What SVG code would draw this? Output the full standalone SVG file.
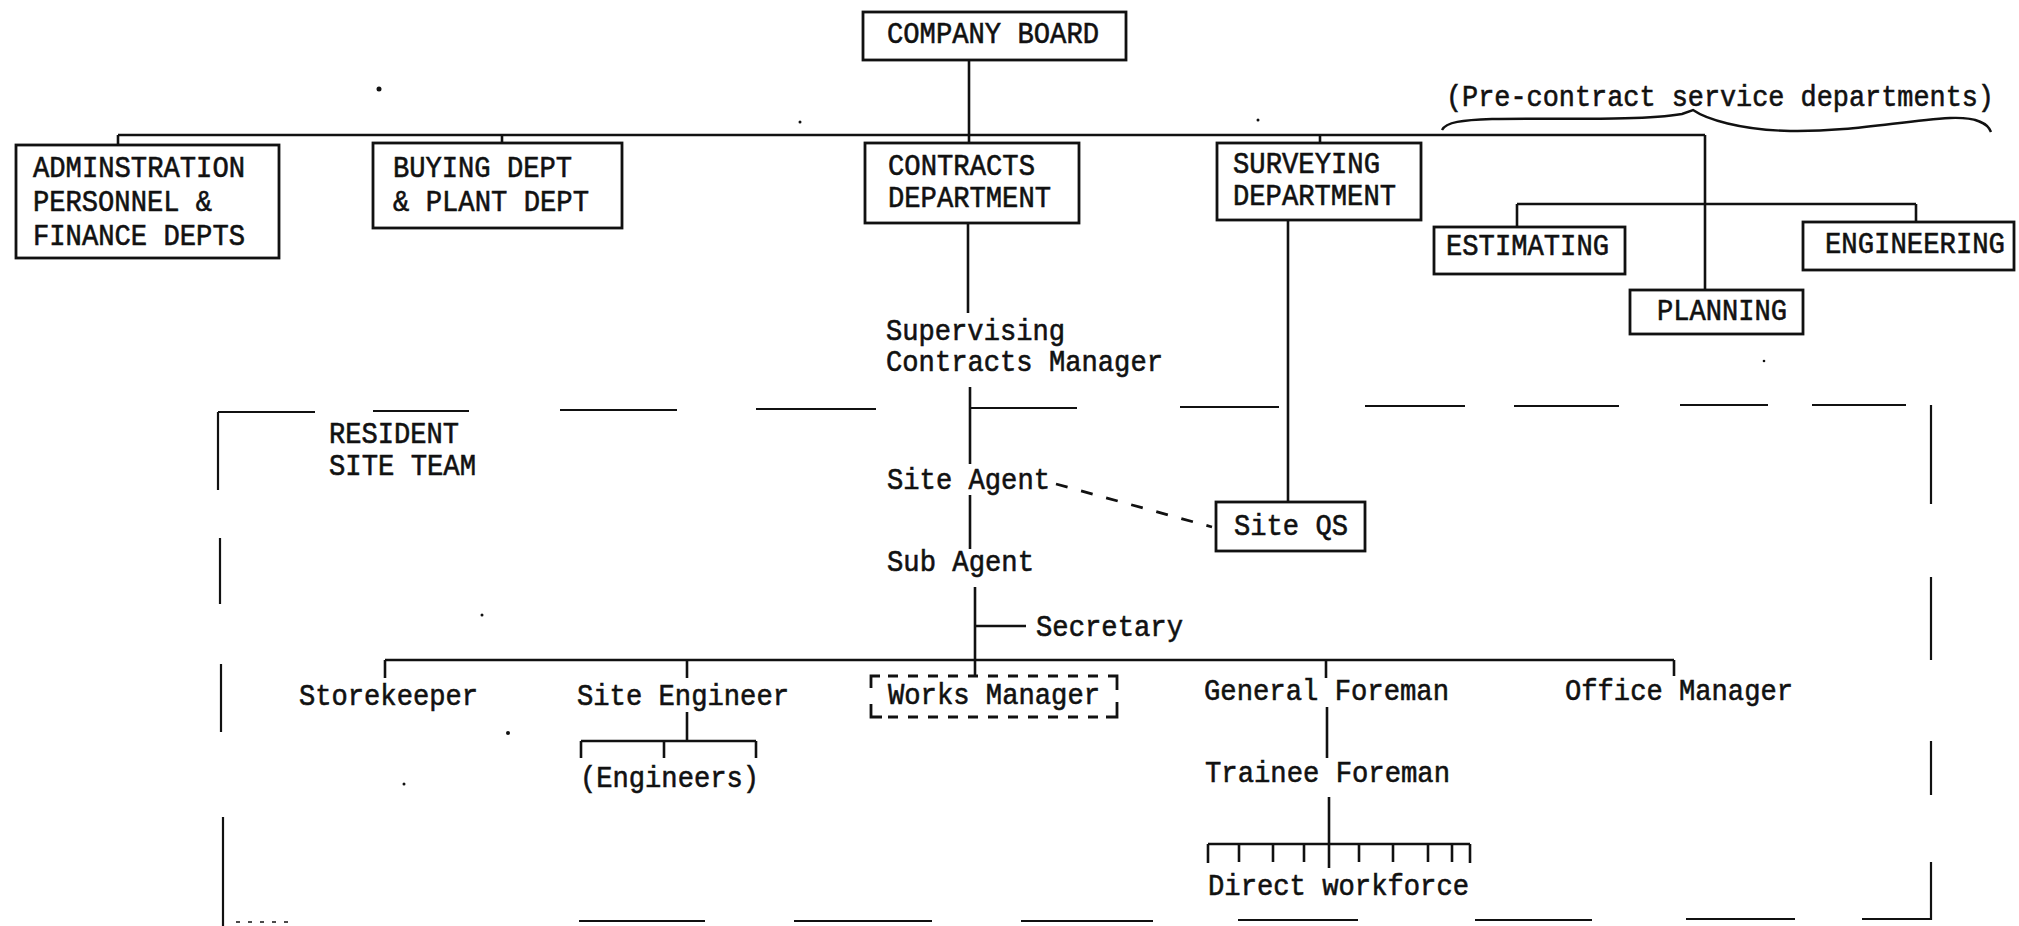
<svg xmlns="http://www.w3.org/2000/svg" width="2019" height="926" viewBox="0 0 2019 926">
<style>
.bg{fill:#fff}
.box{fill:none;stroke:#111;stroke-width:2.8}
.ln{fill:none;stroke:#111;stroke-width:2.6;stroke-linecap:butt}
.thin{fill:none;stroke:#111;stroke-width:2.4}
.dash{fill:none;stroke:#111;stroke-width:2.8;stroke-dasharray:12,14}
.wm{fill:none;stroke:#111;stroke-width:2.8;stroke-dasharray:10,10}
.wmc{fill:none;stroke:#111;stroke-width:2.8}
.bd{fill:none;stroke:#111;stroke-width:2.2}
text{font-family:"Liberation Mono","Courier New",monospace;font-size:30px;fill:#111;stroke:#111;stroke-width:0.6}
.dot{fill:#111}
</style>
<rect class="bg" x="0" y="0" width="2019" height="926"/>

<g id="connectors">
  <line class="ln" x1="969" y1="60" x2="969" y2="143"/>
  <line class="ln" x1="118" y1="135" x2="1705" y2="135"/>
  <line class="ln" x1="118" y1="135" x2="118" y2="145"/>
  <line class="ln" x1="502" y1="135" x2="502" y2="143"/>
  <line class="ln" x1="1320" y1="135" x2="1320" y2="143"/>
  <line class="ln" x1="1705" y1="135" x2="1705" y2="290"/>
  <line class="ln" x1="1517" y1="204" x2="1916" y2="204"/>
  <line class="ln" x1="1517" y1="204" x2="1517" y2="227"/>
  <line class="ln" x1="1916" y1="204" x2="1916" y2="222"/>
  <line class="ln" x1="968" y1="223" x2="968" y2="313"/>
  <line class="ln" x1="970" y1="387" x2="970" y2="464"/>
  <line class="ln" x1="970" y1="495" x2="970" y2="549"/>
  <line class="ln" x1="975" y1="587" x2="975" y2="676"/>
  <line class="ln" x1="975" y1="626" x2="1026" y2="626"/>
  <line class="ln" x1="1288" y1="220" x2="1288" y2="502"/>
  <line class="dash" x1="1056" y1="484" x2="1212" y2="527"/>
  <line class="ln" x1="385" y1="660" x2="1674" y2="660"/>
  <line class="ln" x1="385" y1="660" x2="385" y2="678"/>
  <line class="ln" x1="687" y1="660" x2="687" y2="678"/>
  <line class="ln" x1="1326" y1="660" x2="1326" y2="678"/>
  <line class="ln" x1="1674" y1="660" x2="1674" y2="676"/>
  <line class="ln" x1="687" y1="712" x2="687" y2="741"/>
  <line class="ln" x1="581" y1="741" x2="756" y2="741"/>
  <line class="ln" x1="581" y1="741" x2="581" y2="758"/>
  <line class="ln" x1="664" y1="741" x2="664" y2="758"/>
  <line class="ln" x1="756" y1="741" x2="756" y2="758"/>
  <line class="ln" x1="1327" y1="707" x2="1327" y2="758"/>
  <line class="ln" x1="1329" y1="797" x2="1329" y2="868"/>
  <line class="ln" x1="1208" y1="844" x2="1470" y2="844"/>
  <g class="ln">
    <line x1="1208" y1="844" x2="1208" y2="863"/>
    <line x1="1239" y1="844" x2="1239" y2="862"/>
    <line x1="1273" y1="844" x2="1273" y2="862"/>
    <line x1="1304" y1="844" x2="1304" y2="862"/>
    <line x1="1359" y1="844" x2="1359" y2="862"/>
    <line x1="1393" y1="844" x2="1393" y2="862"/>
    <line x1="1428" y1="844" x2="1428" y2="862"/>
    <line x1="1452" y1="844" x2="1452" y2="862"/>
    <line x1="1470" y1="844" x2="1470" y2="863"/>
  </g>
</g>

<g id="resident-site-team-boundary" class="bd">
  <line x1="218" y1="412" x2="315" y2="412"/>
  <line x1="373" y1="411" x2="469" y2="411"/>
  <line x1="560" y1="410" x2="677" y2="410"/>
  <line x1="756" y1="409" x2="876" y2="409"/>
  <line x1="970" y1="408" x2="1077" y2="408"/>
  <line x1="1180" y1="407" x2="1279" y2="407"/>
  <line x1="1365" y1="406" x2="1465" y2="406"/>
  <line x1="1514" y1="406" x2="1619" y2="406"/>
  <line x1="1680" y1="405" x2="1768" y2="405"/>
  <line x1="1812" y1="405" x2="1906" y2="405"/>
  <line x1="218" y1="412" x2="218" y2="490"/>
  <line x1="220" y1="538" x2="220" y2="604"/>
  <line x1="221" y1="664" x2="221" y2="732"/>
  <line x1="223" y1="817" x2="223" y2="926"/>
  <line x1="1931" y1="405" x2="1931" y2="504"/>
  <line x1="1931" y1="577" x2="1931" y2="660"/>
  <line x1="1931" y1="741" x2="1931" y2="795"/>
  <line x1="1931" y1="862" x2="1931" y2="920"/>
  <line x1="579" y1="921" x2="705" y2="921"/>
  <line x1="794" y1="921" x2="932" y2="921"/>
  <line x1="1021" y1="921" x2="1153" y2="921"/>
  <line x1="1238" y1="920" x2="1358" y2="920"/>
  <line x1="1475" y1="920" x2="1592" y2="920"/>
  <line x1="1686" y1="919" x2="1795" y2="919"/>
  <line x1="1862" y1="919" x2="1931" y2="919"/>
  <line x1="236" y1="922" x2="296" y2="922" stroke-dasharray="4,8" stroke-width="1.4"/>
</g>

<g id="company-board">
  <rect class="box" x="863" y="12" width="263" height="48"/>
  <text x="887" y="43" textLength="212" lengthAdjust="spacingAndGlyphs">COMPANY BOARD</text>
</g>
<g id="admin">
  <rect class="box" x="16" y="145" width="263" height="113"/>
  <text x="33" y="177" textLength="212" lengthAdjust="spacingAndGlyphs">ADMINSTRATION</text>
  <text x="33" y="211" textLength="179" lengthAdjust="spacingAndGlyphs">PERSONNEL &amp;</text>
  <text x="33" y="245" textLength="212" lengthAdjust="spacingAndGlyphs">FINANCE DEPTS</text>
</g>
<g id="buying">
  <rect class="box" x="373" y="143" width="249" height="85"/>
  <text x="393" y="177" textLength="179" lengthAdjust="spacingAndGlyphs">BUYING DEPT</text>
  <text x="393" y="211" textLength="196" lengthAdjust="spacingAndGlyphs">&amp; PLANT DEPT</text>
</g>
<g id="contracts">
  <rect class="box" x="865" y="143" width="214" height="80"/>
  <text x="888" y="175" textLength="147" lengthAdjust="spacingAndGlyphs">CONTRACTS</text>
  <text x="888" y="207" textLength="163" lengthAdjust="spacingAndGlyphs">DEPARTMENT</text>
</g>
<g id="surveying">
  <rect class="box" x="1217" y="143" width="204" height="77"/>
  <text x="1233" y="173" textLength="147" lengthAdjust="spacingAndGlyphs">SURVEYING</text>
  <text x="1233" y="205" textLength="163" lengthAdjust="spacingAndGlyphs">DEPARTMENT</text>
</g>
<g id="pre-contract">
  <text x="1446" y="106" font-size="26" textLength="548" lengthAdjust="spacingAndGlyphs">(Pre-contract service departments)</text>
  <path class="thin" d="M1442,130 C1446,122 1462,120 1492,119 C1560,118 1640,121 1682,114 L1693,110 C1706,119 1740,130 1790,131 C1850,132 1900,121 1950,118 C1975,117 1988,123 1991,132"/>
</g>
<g id="estimating">
  <rect class="box" x="1434" y="227" width="191" height="47"/>
  <text x="1446" y="255" textLength="163" lengthAdjust="spacingAndGlyphs">ESTIMATING</text>
</g>
<g id="engineering">
  <rect class="box" x="1803" y="222" width="211" height="48"/>
  <text x="1825" y="253" textLength="180" lengthAdjust="spacingAndGlyphs">ENGINEERING</text>
</g>
<g id="planning">
  <rect class="box" x="1630" y="290" width="173" height="44"/>
  <text x="1657" y="320" textLength="130" lengthAdjust="spacingAndGlyphs">PLANNING</text>
</g>
<g id="supervising-contracts-manager">
  <text x="886" y="340" textLength="179" lengthAdjust="spacingAndGlyphs">Supervising</text>
  <text x="886" y="371" textLength="277" lengthAdjust="spacingAndGlyphs">Contracts Manager</text>
</g>
<g id="resident-site-team">
  <text x="329" y="443" textLength="130" lengthAdjust="spacingAndGlyphs">RESIDENT</text>
  <text x="329" y="475" textLength="147" lengthAdjust="spacingAndGlyphs">SITE TEAM</text>
</g>
<g id="site-agent">
  <text x="887" y="489" textLength="163" lengthAdjust="spacingAndGlyphs">Site Agent</text>
</g>
<g id="site-qs">
  <rect class="box" x="1216" y="502" width="149" height="49"/>
  <text x="1234" y="535" textLength="114" lengthAdjust="spacingAndGlyphs">Site QS</text>
</g>
<g id="sub-agent">
  <text x="887" y="571" textLength="147" lengthAdjust="spacingAndGlyphs">Sub Agent</text>
</g>
<g id="secretary">
  <text x="1036" y="636" textLength="147" lengthAdjust="spacingAndGlyphs">Secretary</text>
</g>
<g id="storekeeper">
  <text x="299" y="705" textLength="179" lengthAdjust="spacingAndGlyphs">Storekeeper</text>
</g>
<g id="site-engineer">
  <text x="577" y="705" textLength="212" lengthAdjust="spacingAndGlyphs">Site Engineer</text>
</g>
<g id="engineers">
  <text x="580" y="787" textLength="179" lengthAdjust="spacingAndGlyphs">(Engineers)</text>
</g>
<g id="works-manager">
  <line class="wm" x1="888" y1="676" x2="1100" y2="676"/>
  <line class="wm" x1="888" y1="717" x2="1100" y2="717"/>
  <path class="wmc" d="M871,688 L871,676 L880,676 M1108,676 L1117,676 L1117,690 M1117,702 L1117,717 L1106,717 M882,717 L871,717 L871,704"/>
  <text x="888" y="704" textLength="212" lengthAdjust="spacingAndGlyphs">Works Manager</text>
</g>
<g id="general-foreman">
  <text x="1204" y="700" textLength="245" lengthAdjust="spacingAndGlyphs">General Foreman</text>
</g>
<g id="office-manager">
  <text x="1565" y="700" textLength="228" lengthAdjust="spacingAndGlyphs">Office Manager</text>
</g>
<g id="trainee-foreman">
  <text x="1205" y="782" textLength="245" lengthAdjust="spacingAndGlyphs">Trainee Foreman</text>
</g>
<g id="direct-workforce">
  <text x="1208" y="895" textLength="261" lengthAdjust="spacingAndGlyphs">Direct workforce</text>
</g>

<g id="specks" class="dot">
  <circle cx="379" cy="89" r="2.5"/>
  <circle cx="800" cy="122" r="1.5"/>
  <circle cx="1258" cy="120" r="1.5"/>
  <circle cx="1764" cy="361" r="1.3"/>
  <circle cx="482" cy="615" r="1.5"/>
  <circle cx="508" cy="733" r="2"/>
  <circle cx="404" cy="784" r="1.5"/>
</g>
</svg>
